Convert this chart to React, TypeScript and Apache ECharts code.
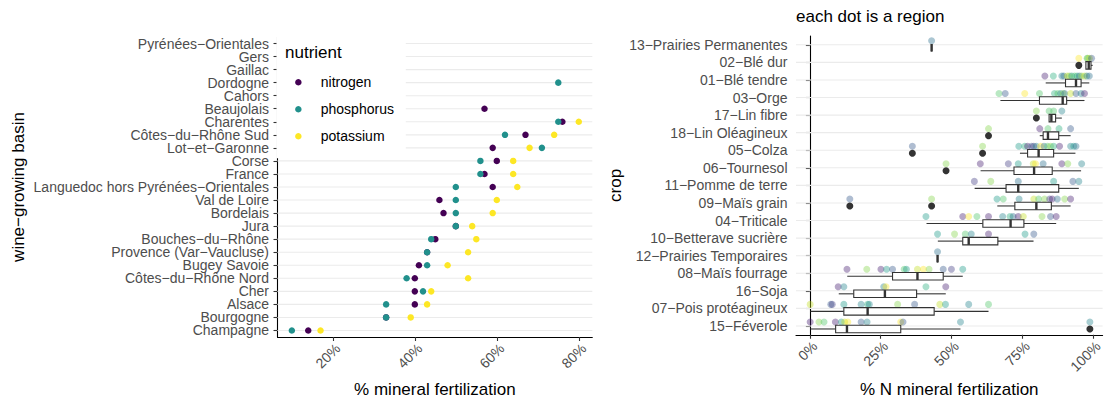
import React, { useEffect, useRef } from 'react';
import * as echarts from 'echarts';

// ---------- left panel data ----------
const basins = [
  'Pyrénées−Orientales', 'Gers', 'Gaillac', 'Dordogne', 'Cahors', 'Beaujolais', 'Charentes',
  'Côtes−du−Rhône Sud', 'Lot−et−Garonne', 'Corse', 'France', 'Languedoc hors Pyrénées−Orientales',
  'Val de Loire', 'Bordelais', 'Jura', 'Bouches−du−Rhône', 'Provence (Var−Vaucluse)', 'Bugey Savoie',
  'Côtes−du−Rhône Nord', 'Cher', 'Alsace', 'Bourgogne', 'Champagne',
];
const nitrogen = [null, null, null, null, null, 57, 76, 67, 59, 60, 57, 59, 46, 47, 50, 45, 43, 41, 40, 40, 40, 33, 14];
const phosphorus = [null, null, null, 75, null, null, 75, 62, 71, 56, 56, 50, 50, 50, 50, 44, 43, 43, 38, 42, 33, 33, 10];
const potassium = [null, null, null, null, null, null, 80, 74, 68, 64, 64, 65, 60, 59, 54, 55, 53, 48, 53, 44, 43, 39, 17];
const nutrients = ['nitrogen', 'phosphorus', 'potassium'];
const nutrientColors = ['#440154', '#21908C', '#FDE725'];
const leftTicks = [20, 40, 60, 80];

// ---------- right panel data ----------
const crops = [
  '13−Prairies Permanentes', '02−Blé dur', '01−Blé tendre', '03−Orge', '17−Lin fibre', '18−Lin Oléagineux',
  '05−Colza', '06−Tournesol', '11−Pomme de terre', '09−Maïs grain', '04−Triticale', '10−Betterave sucrière',
  '12−Prairies Temporaires', '08−Maïs fourrage', '16−Soja', '07−Pois protéagineux', '15−Féverole',
];
const boxMin = [43, 97.5, 83.3, 67.3, 84.5, 81.2, 74.2, 60.3, 58.2, 66.2, 41.2, 45.2, 45.1, 13.2, 10.2, 0.2, 0.2];
const boxQ1 = [43, 97.5, 90.3, 81.1, 84.5, 82.4, 76.9, 72.1, 69.3, 72.4, 61.1, 54.0, 45.1, 29.2, 15.5, 12.0, 9.1];
const boxMedian = [43, 98.5, 94.0, 89.3, 85.3, 84.1, 80.8, 79.2, 73.6, 80.0, 70.9, 56.1, 45.1, 38.0, 26.5, 20.4, 13.1];
const boxQ3 = [43, 99.3, 95.8, 90.7, 86.8, 87.9, 86.1, 85.6, 87.9, 85.3, 75.6, 66.4, 45.1, 47.1, 37.7, 43.9, 32.1];
const boxMax = [43, 99.9, 98.7, 97.0, 89.0, 92.1, 93.8, 95.8, 95.0, 92.1, 87.0, 79.0, 45.1, 54.0, 48.0, 63.1, 53.2];
const outlierCrops = ['02−Blé dur', '17−Lin fibre', '18−Lin Oléagineux', '05−Colza', '05−Colza', '06−Tournesol', '09−Maïs grain', '09−Maïs grain', '15−Féverole'];
const outlierValues = [95.0, 80.0, 63.1, 36.2, 61.0, 48.1, 14.1, 43.0, 98.9];
const regionDotValues = [
  [43.0],
  [95.0, 97.9, 98.1, 98.7, 99.5],
  [83.0, 86.0, 89.0, 89.7, 90.9, 91.7, 92.5, 93.5, 94.4, 95.2, 96.0, 97.0, 97.8, 98.7],
  [66.8, 69.0, 75.9, 81.1, 86.4, 87.6, 88.6, 89.5, 90.0, 92.1, 94.0, 95.8, 97.0],
  [80.0, 84.5, 86.1, 89.0],
  [63.1, 81.2, 84.1, 88.0, 92.1],
  [36.2, 61.0, 73.8, 75.9, 76.9, 78.3, 79.1, 80.0, 81.5, 82.7, 83.9, 85.0, 86.1, 88.2, 92.1, 93.2, 94.0],
  [48.1, 60.2, 70.1, 73.6, 78.9, 79.7, 82.4, 89.0, 91.1, 96.0],
  [58.1, 63.9, 73.6, 86.1, 92.9, 95.0],
  [14.1, 43.0, 66.1, 68.3, 73.9, 79.1, 80.8, 82.9, 84.7, 85.6, 87.4, 90.0, 92.1],
  [41.0, 54.0, 56.1, 59.0, 63.1, 68.1, 70.7, 71.8, 73.6, 75.4, 82.0, 85.0, 87.0],
  [45.1, 51.1, 54.9, 57.0, 63.1, 76.0, 79.1],
  [45.1],
  [13.1, 20.1, 25.1, 27.1, 29.2, 33.3, 34.1, 38.0, 40.1, 42.1, 47.1, 50.0, 54.0],
  [10.0, 12.0, 26.1, 26.9, 41.0, 48.0],
  [0.1, 7.4, 7.9, 12.0, 18.1, 20.4, 21.0, 31.0, 37.0, 45.9, 47.9, 56.1, 63.1],
  [0.1, 3.2, 5.0, 9.0, 11.1, 12.3, 13.4, 18.1, 20.2, 32.1, 32.9, 53.2, 98.9],
];
const regionDotColorIdx = [
  [4],
  [11, 9, 8, 10, 3],
  [1, 7, 5, 4, 10, 9, 6, 8, 7, 4, 9, 10, 5, 4],
  [8, 3, 11, 8, 7, 8, 5, 9, 4, 10, 3, 5, 1],
  [9, 8, 8, 5],
  [9, 1, 8, 7, 3],
  [3, 9, 6, 7, 1, 3, 2, 5, 11, 4, 8, 9, 7, 1, 5, 6, 4],
  [9, 1, 2, 6, 10, 11, 4, 1, 9, 5],
  [2, 9, 4, 6, 3, 5],
  [3, 9, 6, 8, 5, 10, 8, 9, 2, 1, 4, 9, 1],
  [6, 1, 11, 8, 1, 5, 7, 4, 1, 10, 9, 3, 1],
  [6, 9, 8, 5, 1, 6, 3],
  [4],
  [1, 9, 1, 6, 3, 8, 6, 10, 11, 9, 3, 2, 6],
  [1, 5, 5, 11, 7, 1],
  [10, 3, 2, 6, 5, 7, 5, 9, 3, 10, 6, 5, 8],
  [1, 9, 8, 1, 6, 10, 11, 3, 5, 11, 3, 5, 5],
];
const viridis = ['#440154', '#482173', '#433E85', '#38598C', '#2D708E', '#25858E', '#1E9B8A', '#2BB07F', '#51C56A', '#85D54A', '#C2DF23', '#FDE725'];
const rightTicks = [0, 25, 50, 75, 100];

const FONT = '"Liberation Sans", Arial, Helvetica, sans-serif';
const TICK_COLOR = '#4d4d4d';

function gridLineItem(params: any, api: any) {
  const cs = params.coordSys;
  const y = api.coord([api.value(0), api.value(1)])[1];
  return {
    type: 'line',
    silent: true,
    shape: { x1: cs.x, y1: y, x2: cs.x + cs.width, y2: y },
    style: { stroke: '#ebebeb', lineWidth: 1.1 },
  };
}

function boxItem(params: any, api: any) {
  const i = api.value(0);
  const xMin = api.coord([api.value(1), i])[0];
  const xQ1 = api.coord([api.value(2), i])[0];
  const xMed = api.coord([api.value(3), i])[0];
  const xQ3 = api.coord([api.value(4), i])[0];
  const xMax = api.coord([api.value(5), i])[0];
  const yc = api.coord([api.value(3), i])[1] + 3;
  const h = 7.5;
  const ls = { stroke: '#333333', lineWidth: 1.1 };
  return {
    type: 'group',
    children: [
      { type: 'line', shape: { x1: xMin, y1: yc, x2: xQ1, y2: yc }, style: ls },
      { type: 'line', shape: { x1: xQ3, y1: yc, x2: xMax, y2: yc }, style: ls },
      { type: 'rect', shape: { x: xQ1, y: yc - h / 2, width: xQ3 - xQ1, height: h }, style: { fill: '#ffffff', ...ls } },
      { type: 'line', shape: { x1: xMed, y1: yc - h / 2, x2: xMed, y2: yc + h / 2 }, style: { stroke: '#333333', lineWidth: 2.4 } },
    ],
  };
}

function buildOption() {
  const leftSeries = [nitrogen, phosphorus, potassium].map((vals, k) => ({
    name: nutrients[k],
    type: 'scatter',
    xAxisIndex: 0,
    yAxisIndex: 0,
    symbol: 'circle',
    symbolSize: 6.5,
    itemStyle: { color: nutrientColors[k], opacity: 1 },
    data: vals
      .map((v, i) => (v === null ? null : [v, basins[i]]))
      .filter((d) => d !== null),
    z: 3,
  }));

  const dots: any[] = [];
  regionDotValues.forEach((vals, i) => {
    vals.forEach((v, j) => {
      dots.push({ value: [v, crops[i]], itemStyle: { color: viridis[regionDotColorIdx[i][j]], opacity: 0.4 } });
    });
  });

  const axisLineStyle = { show: true, lineStyle: { color: '#000000', width: 1.1 } };
  const tickStyle = { color: '#333333', width: 1.1 };

  return {
    animation: false,
    textStyle: { fontFamily: FONT },
    title: {
      text: 'each dot is a region',
      left: 796,
      top: 8,
      padding: 0,
      textStyle: { fontFamily: FONT, fontSize: 17, fontWeight: 'normal', color: '#000000' },
    },
    legend: {
      data: nutrients,
      left: 276.5,
      top: 36,
      orient: 'vertical',
      backgroundColor: '#ffffff',
      padding: [37.8, 11.9, 13.5, 18.6],
      itemWidth: 34.8,
      itemHeight: 6.5,
      itemGap: 10,
      icon: 'circle',
      selectedMode: false,
      textStyle: { fontFamily: FONT, fontSize: 14, color: '#000000', lineHeight: 17 },
    },
    graphic: [
      {
        type: 'text',
        left: 285,
        top: 44,
        z: 100,
        style: { text: 'nutrient', font: `17px ${FONT}`, fill: '#000000' },
      },
    ],
    grid: [
      { left: 277.5, top: 37, width: 314.8, height: 302 },
      { left: 796, top: 36, width: 309, height: 302 },
    ],
    xAxis: [
      {
        type: 'value',
        gridIndex: 0,
        min: 6.5,
        max: 83.3,
        axisLine: axisLineStyle,
        axisTick: { show: true, length: 4, lineStyle: tickStyle, customValues: leftTicks },
        axisLabel: {
          customValues: leftTicks,
          formatter: (v: number) => `${v}%`,
          rotate: 45,
          align: 'right',
          verticalAlign: 'top',
          margin: 4,
          fontSize: 14,
          color: TICK_COLOR,
          fontFamily: FONT,
        },
        splitLine: { show: false },
        name: '% mineral fertilization',
        nameLocation: 'middle',
        nameGap: 44,
        nameTextStyle: { fontSize: 17, color: '#000000', fontFamily: FONT },
      },
      {
        type: 'value',
        gridIndex: 1,
        min: -4.9,
        max: 103.4,
        axisLine: axisLineStyle,
        axisTick: { show: true, length: 4, lineStyle: tickStyle, customValues: rightTicks },
        axisLabel: {
          customValues: rightTicks,
          formatter: (v: number) => `${v}%`,
          rotate: 45,
          align: 'right',
          verticalAlign: 'top',
          margin: 4,
          fontSize: 14,
          color: TICK_COLOR,
          fontFamily: FONT,
        },
        splitLine: { show: false },
        name: '% N mineral fertilization',
        nameLocation: 'middle',
        nameGap: 45,
        nameTextStyle: { fontSize: 17, color: '#000000', fontFamily: FONT },
      },
    ],
    yAxis: [
      {
        type: 'category',
        gridIndex: 0,
        data: basins,
        inverse: true,
        axisLine: axisLineStyle,
        axisTick: { show: true, alignWithLabel: true, interval: 0, length: 4, lineStyle: tickStyle },
        axisLabel: { interval: 0, margin: 8.5, fontSize: 14, lineHeight: 12.5, color: TICK_COLOR, fontFamily: FONT },
        splitLine: { show: false },
        name: 'wine−growing basin',
        nameLocation: 'middle',
        nameRotate: 90,
        nameGap: 251,
        nameTextStyle: { fontSize: 17, color: '#000000', fontFamily: FONT },
      },
      {
        type: 'category',
        gridIndex: 1,
        data: crops,
        inverse: true,
        axisLine: axisLineStyle,
        axisTick: { show: true, alignWithLabel: true, interval: 0, length: 4, lineStyle: tickStyle },
        axisLabel: { interval: 0, margin: 8.5, fontSize: 14, color: TICK_COLOR, fontFamily: FONT },
        splitLine: { show: false },
        name: 'crop',
        nameLocation: 'middle',
        nameRotate: 90,
        nameGap: 172,
        nameTextStyle: { fontSize: 17, color: '#000000', fontFamily: FONT },
      },
    ],
    series: [
      {
        type: 'custom',
        xAxisIndex: 0,
        yAxisIndex: 0,
        renderItem: gridLineItem,
        encode: { x: 0, y: 1 },
        data: basins.map((_, i) => [20, i]),
        silent: true,
        z: 1,
      },
      {
        type: 'custom',
        xAxisIndex: 1,
        yAxisIndex: 1,
        renderItem: gridLineItem,
        encode: { x: 0, y: 1 },
        data: crops.map((_, i) => [50, i]),
        silent: true,
        z: 1,
      },
      ...leftSeries,
      {
        type: 'scatter',
        xAxisIndex: 1,
        yAxisIndex: 1,
        symbol: 'circle',
        symbolSize: 7,
        symbolOffset: [0, -4],
        data: dots,
        z: 3,
      },
      {
        type: 'custom',
        xAxisIndex: 1,
        yAxisIndex: 1,
        renderItem: boxItem,
        encode: { x: [1, 2, 3, 4, 5], y: 0 },
        data: crops.map((_, i) => [i, boxMin[i], boxQ1[i], boxMedian[i], boxQ3[i], boxMax[i]]),
        z: 4,
      },
      {
        type: 'scatter',
        xAxisIndex: 1,
        yAxisIndex: 1,
        symbol: 'circle',
        symbolSize: 7,
        symbolOffset: [0, 3],
        itemStyle: { color: '#333333', opacity: 1 },
        data: outlierValues.map((v, i) => [v, outlierCrops[i]]),
        z: 5,
      },
    ],
  };
}

export default function App() {
  const ref = useRef<HTMLDivElement>(null);
  useEffect(() => {
    if (!ref.current) return;
    const chart = echarts.init(ref.current, null, { renderer: 'svg' });
    chart.setOption(buildOption() as any);
    return () => chart.dispose();
  }, []);
  return (
    <div
      ref={ref}
      style={{ position: 'fixed', left: 0, top: 0, width: 1105, height: 403, background: '#ffffff' }}
    />
  );
}
